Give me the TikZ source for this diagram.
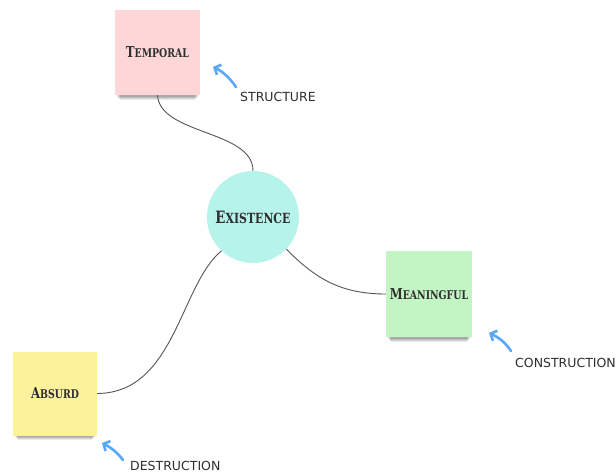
\documentclass[tikz,border=0pt]{standalone}
\usepackage{fontspec}
\setmainfont{DejaVu Sans}
\newfontfamily\labfont[FakeStretch=0.78]{DejaVu Serif}
\newfontfamily\handfont{DejaVu Sans}
\usetikzlibrary{arrows.meta}
\definecolor{pinkbox}{HTML}{FFD6D8}
\definecolor{greenbox}{HTML}{C3F4C3}
\definecolor{yellowbox}{HTML}{FDF29C}
\definecolor{cyancirc}{HTML}{B5F3EB}
\definecolor{linkgray}{HTML}{555555}
\definecolor{noteblue}{HTML}{5AA8F7}
\definecolor{inktext}{HTML}{2E2E2E}
\newcommand\sclab[3]{{\labfont\bfseries\color{inktext}{\fontsize{#3}{#3}\selectfont #1}{\fontsize{\numexpr #3*81/100\relax}{12}\selectfont #2}}}
\tikzset{
  sticky/.style={minimum width=85pt, minimum height=85pt, inner sep=0pt},
  hub/.style={circle, fill=cyancirc, minimum size=92pt, inner sep=0pt},
  link/.style={draw=linkgray, line width=0.9pt},
  notearrow/.style={draw=noteblue, line width=2.6pt, line cap=round, -{Straight Barb[length=5pt,width=11pt,line width=2.6pt]}},
  notetext/.style={anchor=west, inner sep=0pt, font=\handfont\fontsize{12.5}{12.5}\selectfont, text=inktext}
}
\newcommand\shadowbox[4]{% x1 x2 ybottom
  \foreach \k/\o in {0/0.10,1/0.10,2/0.10,3/0.08}{
    \fill[black, opacity=\o] ({#1+2+\k}, {#3-3}) rectangle ({#2-2-\k}, {#3+2+\k});
  }
}
\begin{document}
\begin{tikzpicture}[x=1pt, y=-1pt]
\useasboundingbox (0,0) rectangle (616,473);
\fill[white] (0,0) rectangle (616,473);
% shadows
\shadowbox{115}{200}{95}{}
\shadowbox{386}{472}{337}{}
\shadowbox{13}{97}{435}{}
% nodes
\node[sticky, fill=pinkbox] (tp) at (157.5,52.5) {\sclab{T}{EMPORAL}{15}};
\node[sticky, fill=greenbox, minimum width=86pt, minimum height=86pt] (mn) at (429,294) {\sclab{M}{EANINGFUL}{15}};
\node[sticky, fill=yellowbox, minimum width=84pt, minimum height=84pt] (ab) at (55,393.5) {\sclab{A}{BSURD}{15}};
\node[hub] (ex) at (253,217) {\sclab{E}{XISTENCE}{17}};
% connectors
\draw[link] (tp.south) .. controls (160,135) and (253,130) .. (ex.90);
\draw[link] (ex.227) .. controls (180,285) and (175,393) .. (ab.east);
\draw[link] (ex.-44) .. controls (315,278) and (340,294) .. (mn.west);
% annotations
\node[notetext] (st) at (240,97) {STRUCTURE};
\node[notetext] (co) at (515,363) {CONSTRUCTION};
\node[notetext] (de) at (130,466) {DESTRUCTION};
\coordinate (sta) at (236,87);
\coordinate (stb) at (213,67);
\coordinate (coa) at (511,351);
\coordinate (cob) at (489,333);
\coordinate (dea) at (123,460);
\coordinate (deb) at (102,443);
\draw[notearrow] (sta) .. controls (230,78) and (222,71) .. (stb);
\draw[notearrow] (coa) .. controls (505,342) and (498,337) .. (cob);
\draw[notearrow] (dea) .. controls (117,452) and (110,447) .. (deb);
\end{tikzpicture}
\end{document}
